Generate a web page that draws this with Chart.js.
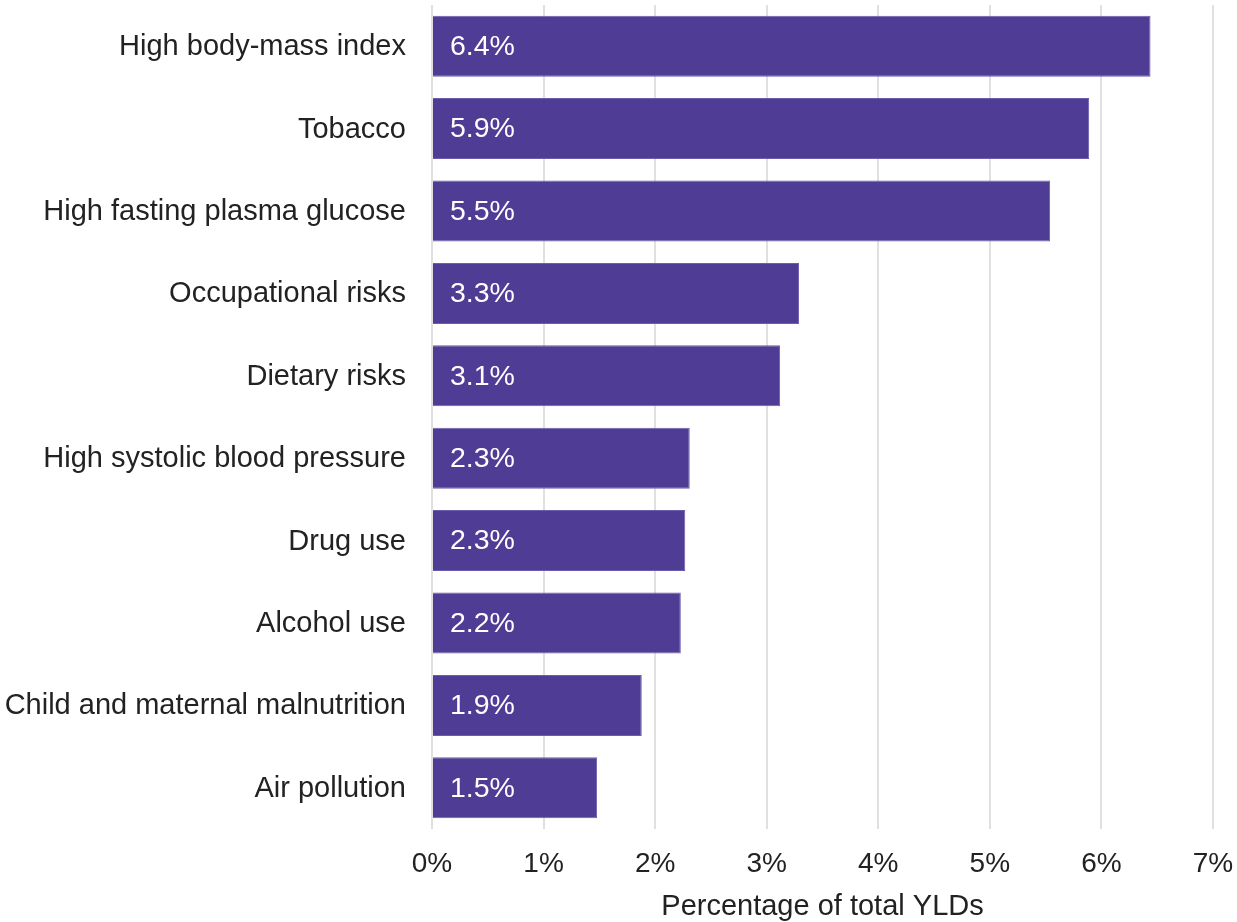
<!DOCTYPE html>
<html>
<head>
<meta charset="utf-8">
<script src="https://cdn.jsdelivr.net/npm/chart.js@4"></script>
<style>
  html, body { margin: 0; padding: 0; background: #ffffff; }
  #wrap { position: relative; width: 1237px; height: 922px; }
</style>
</head>
<body>
<div id="wrap"><canvas id="c" width="1237" height="922"></canvas></div>
<script>
const categories = [
  "High body-mass index",
  "Tobacco",
  "High fasting plasma glucose",
  "Occupational risks",
  "Dietary risks",
  "High systolic blood pressure",
  "Drug use",
  "Alcohol use",
  "Child and maternal malnutrition",
  "Air pollution"
];
const values = [6.44, 5.89, 5.54, 3.29, 3.12, 2.31, 2.27, 2.23, 1.88, 1.48];
const valueLabels = ["6.4%", "5.9%", "5.5%", "3.3%", "3.1%", "2.3%", "2.3%", "2.2%", "1.9%", "1.5%"];
const xTicks = [0, 1, 2, 3, 4, 5, 6, 7];
const axisTitle = "Percentage of total YLDs";

const FONT = "'Liberation Sans', Arial, Helvetica, sans-serif";

const valueLabelPlugin = {
  id: 'valueLabels',
  afterDatasetsDraw(chart) {
    const ctx = chart.ctx;
    const meta = chart.getDatasetMeta(0);
    ctx.save();
    ctx.font = "28.5px " + FONT;
    ctx.fillStyle = "#ffffff";
    ctx.textAlign = "left";
    ctx.textBaseline = "middle";
    meta.data.forEach((bar, i) => {
      ctx.fillText(valueLabels[i], bar.base + 17, bar.y + 1);
    });
    ctx.restore();
  }
};

new Chart(document.getElementById('c'), {
  type: 'bar',
  data: {
    labels: categories,
    datasets: [{
      data: values,
      backgroundColor: '#4f3c94',
      borderColor: '#6c5cad',
      borderWidth: 1,
      borderSkipped: 'start',
      categoryPercentage: 1.0,
      barPercentage: 0.74
    }]
  },
  options: {
    indexAxis: 'y',
    responsive: false,
    animation: false,
    devicePixelRatio: 1,
    layout: { padding: { top: 5, right: 24, bottom: 0, left: 0 } },
    plugins: {
      legend: { display: false },
      tooltip: { enabled: false },
      title: { display: false }
    },
    scales: {
      x: {
        type: 'linear',
        min: 0,
        max: 7,
        afterBuildTicks(scale) {
          scale.ticks = xTicks.map(v => ({ value: v }));
        },
        afterFit(scale) {
          scale.height = 93;
          scale.paddingLeft = 0;
          scale.paddingRight = 0;
        },
        border: { display: false },
        grid: {
          color: '#e0e0e0',
          lineWidth: 2,
          drawTicks: false
        },
        ticks: {
          color: '#222222',
          font: { family: FONT, size: 28 },
          padding: 18,
          maxRotation: 0,
          callback: v => v + '%'
        },
        title: {
          display: true,
          text: axisTitle,
          color: '#222222',
          font: { family: FONT, size: 29 },
          padding: { top: 0, bottom: -2 }
        }
      },
      y: {
        afterFit(scale) {
          scale.width = 432;
          scale.paddingTop = 0;
          scale.paddingBottom = 0;
        },
        border: { display: false },
        grid: { display: false, drawTicks: false },
        ticks: {
          color: '#222222',
          font: { family: FONT, size: 29 },
          padding: 26,
          labelOffset: 1,
          crossAlign: 'near'
        }
      }
    }
  },
  plugins: [valueLabelPlugin]
});
</script>
</body>
</html>
